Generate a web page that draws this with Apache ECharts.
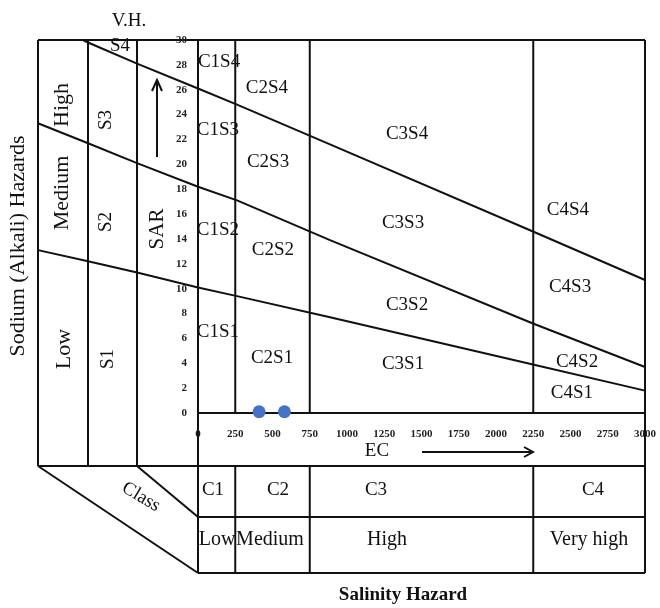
<!DOCTYPE html>
<html>
<head>
<meta charset="utf-8">
<title>Salinity and sodium hazard diagram</title>
<script src="https://cdn.jsdelivr.net/npm/echarts@6/dist/echarts.min.js"></script>
<style>
  html, body { margin: 0; padding: 0; background: #fff; }
  #chart { width: 660px; height: 608px; }
</style>
</head>
<body>
<div id="chart"></div>
<script>
// ---- data -------------------------------------------------------------
// Water samples: electrical conductivity (µS/cm) and sodium adsorption ratio
const sampleEC  = [410, 580];
const sampleSAR = [0.1, 0.1];

// Salinity classes and their EC limits
const salinityClasses = ['C1', 'C2', 'C3', 'C4'];
const salinityNames   = ['Low', 'Medium', 'High', 'Very high'];
const salinityLimits  = [0, 250, 750, 2250, 3000];

// Sodium classes
const sodiumClasses = ['S1', 'S2', 'S3', 'S4'];
const sodiumNames   = ['Low', 'Medium', 'High', 'V.H.'];

// Sodium hazard boundaries as [EC, SAR]; the negative-EC part continues
// each boundary through the class columns left of the plot
const limitS1S2 = [[-1074, 13.1], [-738, 12.2], [-409, 11.3], [0, 10.1], [262, 9.4], [886, 7.7], [2248, 3.9], [3000, 1.8]];
const limitS2S3 = [[-1074, 23.3], [-738, 21.7], [-409, 20.1], [0, 18.2], [262, 17.1], [886, 13.9], [2248, 7.2], [3000, 3.7]];
const limitS3S4 = [[-772, 30], [-738, 29.8], [-409, 28.1], [0, 26.1], [262, 24.8], [886, 21.6], [2248, 14.6], [3000, 10.7]];

// Axis ticks
const ecTickStep = 250;
const sarTickStep = 2;

// ---- layout -----------------------------------------------------------
// zone captions placed in EC / SAR units
const zoneCaptions = [
  [141, 28.2, 'C1S4'], [463, 26.1, 'C2S4'], [1403, 22.4, 'C3S4'], [2483, 16.3, 'C4S4'],
  [134, 22.8, 'C1S3'], [470, 20.2, 'C2S3'], [1376, 15.3, 'C3S3'], [2497, 10.1, 'C4S3'],
  [134, 14.7, 'C1S2'], [503, 13.1, 'C2S2'], [1403, 8.7, 'C3S2'], [2544, 4.1, 'C4S2'],
  [134, 6.5, 'C1S1'],  [497, 4.4, 'C2S1'],  [1376, 3.9, 'C3S1'], [2510, 1.6, 'C4S1']
];

const FRAME = { left: 38, colS: 88, colSAR: 137, ecBand: 466, tableMid: 517, tableBottom: 573 };
const INK = '#111';
const SERIF = '"Liberation Serif", "Times New Roman", serif';

const chart = echarts.init(document.getElementById('chart'), null, { renderer: 'canvas' });

// part of a boundary inside the plot (EC >= 0)
const plotPart = (data) => data.filter(p => p[0] >= 0);
// part of a boundary in the class columns (EC <= 0)
const columnPart = (data) => data.filter(p => p[0] <= 0);

const boundaryLine = (data) => ({
  type: 'line', data: data, symbol: 'none', silent: true,
  lineStyle: { color: INK, width: 2 }, z: 3
});

const option = {
  animation: false,
  backgroundColor: '#fff',
  grid: { left: 198, top: 40, width: 447, height: 373, containLabel: false, outerBoundsMode: 'none' },
  xAxis: {
    type: 'value', min: 0, max: 3000, interval: ecTickStep,
    axisLine: { show: false }, axisTick: { show: false }, splitLine: { show: false },
    axisLabel: {
      margin: 16, fontSize: 11, fontWeight: 'bold', fontFamily: SERIF, color: '#222',
      showMinLabel: true, showMaxLabel: true, formatter: v => String(v)
    }
  },
  yAxis: {
    type: 'value', min: 0, max: 30, interval: sarTickStep,
    axisLine: { show: false }, axisTick: { show: false }, splitLine: { show: false },
    axisLabel: {
      margin: 11, fontSize: 11, fontWeight: 'bold', fontFamily: SERIF, color: '#222',
      showMinLabel: true, showMaxLabel: true, formatter: v => String(v)
    }
  },
  series: [
    boundaryLine(plotPart(limitS1S2)),
    boundaryLine(plotPart(limitS2S3)),
    boundaryLine(plotPart(limitS3S4)),
    // salinity class limits inside the plot
    ...salinityLimits.slice(1, -1).map(ec => boundaryLine([[ec, 0], [ec, 30]])),
    {
      type: 'scatter', silent: true, z: 2,
      symbolSize: 0,
      itemStyle: { opacity: 1 },
      data: zoneCaptions.map(c => ({ value: [c[0], c[1]], name: c[2] })),
      label: { show: true, position: 'inside', formatter: '{b}', fontFamily: SERIF, fontSize: 19, color: INK, opacity: 1 }
    },
    {
      type: 'scatter', z: 6,
      symbolSize: 13,
      itemStyle: { color: '#4472c4', opacity: 1 },
      data: sampleEC.map((ec, i) => [ec, sampleSAR[i]])
    }
  ]
};

chart.setOption(option);

// ---- frame, class table and captions ------------------------------------
const px = (ec, sar) => chart.convertToPixel({ gridIndex: 0 }, [ec, sar]);
const [xMin, yTop] = px(0, 30);
const [xMax, yBase] = px(3000, 0);

const seg = (x1, y1, x2, y2) => ({
  type: 'line', silent: true,
  shape: { x1, y1, x2, y2 },
  style: { stroke: INK, lineWidth: 2 }
});
const poly = (pts) => ({
  type: 'polyline', silent: true,
  shape: { points: pts },
  style: { stroke: INK, lineWidth: 2, fill: null }
});
const label = (text, x, y, size, opts) => {
  opts = opts || {};
  return {
    type: 'text', silent: true, x, y,
    rotation: (opts.rot || 0) * Math.PI / 180,
    style: {
      text, fill: INK, align: 'center', verticalAlign: 'middle',
      font: (opts.bold ? 'bold ' : '') + size + 'px ' + SERIF
    }
  };
};

const elements = [
  // outer frame and label columns
  seg(FRAME.left, yTop, xMax, yTop),
  seg(FRAME.left, yTop, FRAME.left, FRAME.ecBand),
  seg(FRAME.colS, yTop, FRAME.colS, FRAME.ecBand),
  seg(FRAME.colSAR, yTop, FRAME.colSAR, FRAME.ecBand),
  seg(xMin, yTop, xMin, FRAME.tableBottom),
  seg(xMax, yTop, xMax, FRAME.tableBottom),
  seg(xMin, yBase, xMax, yBase),
  seg(FRAME.left, FRAME.ecBand, xMax, FRAME.ecBand),
  seg(xMin, FRAME.tableMid, xMax, FRAME.tableMid),
  seg(xMin, FRAME.tableBottom, xMax, FRAME.tableBottom),
  // slanted "Class" band
  seg(FRAME.left, FRAME.ecBand, xMin, FRAME.tableBottom),
  seg(FRAME.colSAR, FRAME.ecBand, xMin, FRAME.tableMid),
  // SAR arrow
  seg(157, 157, 157, 82),
  poly([[152, 91], [157, 80], [162, 91]]),
  // EC arrow
  seg(422, 452, 531, 452),
  poly([[524, 447], [533, 452], [524, 457]])
];

// boundaries continued through the class columns
[limitS1S2, limitS2S3, limitS3S4].forEach(b => {
  elements.push(poly(columnPart(b).map(p => px(p[0], p[1]))));
});

// salinity table dividers
salinityLimits.slice(1, -1).forEach(ec => {
  const x = px(ec, 0)[0];
  elements.push(seg(x, FRAME.ecBand, x, FRAME.tableBottom));
});

// salinity table captions
const classPos = [213, 278, 376, 593];
const namePos = [217, 270, 387, 589];
salinityClasses.forEach((c, i) => elements.push(label(c, classPos[i], 490, 19)));
salinityNames.forEach((n, i) => elements.push(label(n, namePos[i], 540, 20)));

// sodium column captions
const sodiumNamePos = [[64, 349], [62, 193], [62, 105]];
sodiumNames.slice(0, 3).forEach((n, i) => elements.push(label(n, sodiumNamePos[i][0], sodiumNamePos[i][1], 22, { rot: 90 })));
elements.push(label(sodiumNames[3], 129, 21, 19));
const sodiumClassPos = [[108, 359], [106, 222], [106, 120]];
sodiumClasses.slice(0, 3).forEach((c, i) => elements.push(label(c, sodiumClassPos[i][0], sodiumClassPos[i][1], 19, { rot: 90 })));
elements.push(label(sodiumClasses[3], 120, 46, 19));

// axis titles
elements.push(label('SAR', 157, 229, 21, { rot: 90 }));
elements.push(label('EC', 377, 451, 19));
elements.push(label('Class', 141, 497, 19, { rot: -31 }));
elements.push(label('Sodium (Alkali) Hazards', 18, 246, 22, { rot: 90 }));
elements.push(label('Salinity Hazard', 403, 595, 19, { bold: true }));

chart.setOption({ graphic: { elements } });
</script>
</body>
</html>
